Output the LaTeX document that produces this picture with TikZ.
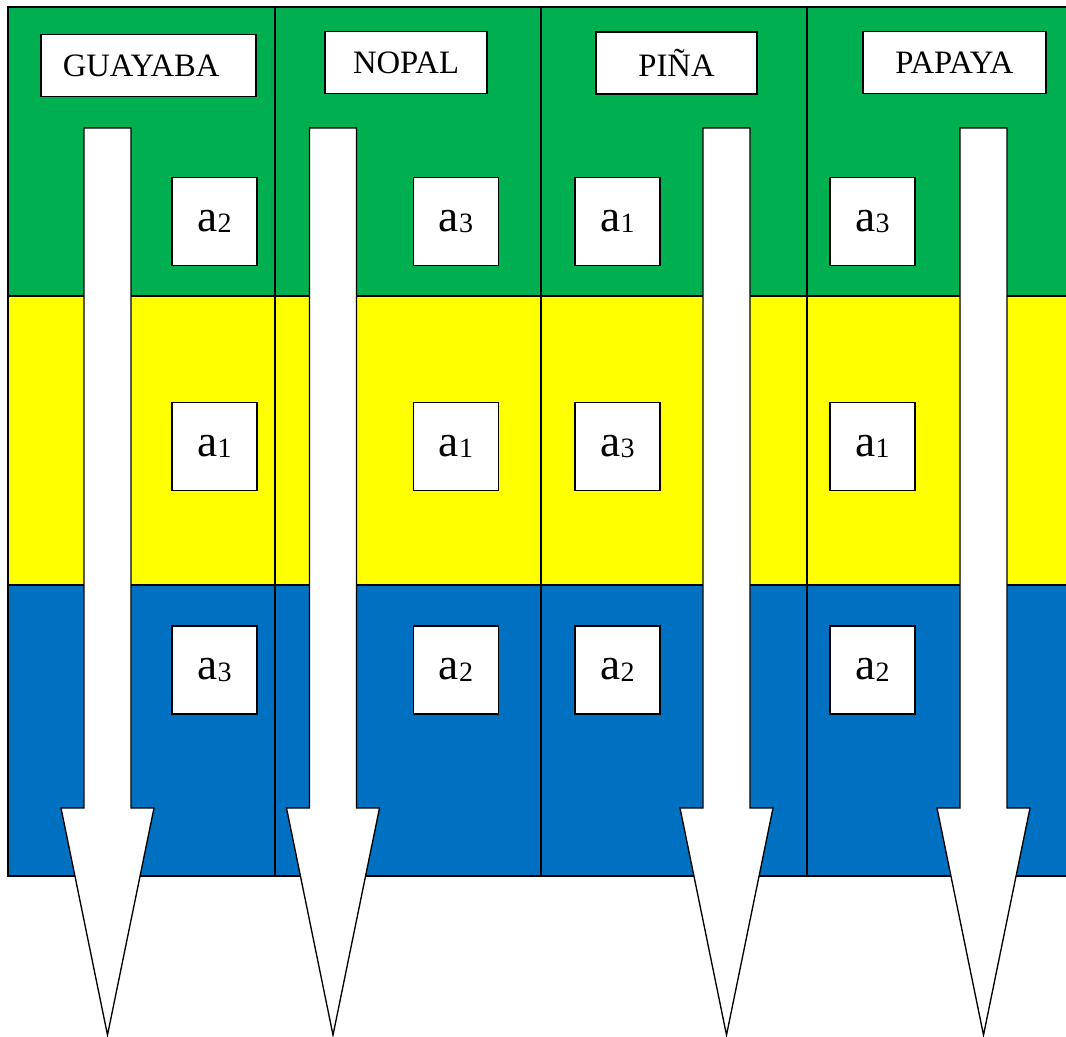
\documentclass[tikz,border=0pt]{standalone}
\usepackage{fontspec}
\setmainfont{Liberation Serif}
\definecolor{cgreen}{HTML}{00B050}
\definecolor{cyellow}{HTML}{FFFF00}
\definecolor{cblue}{HTML}{0070C0}
\newcommand\px{0.75pt}
\newcommand\alab[1]{a\raisebox{-1.2pt}{\fontsize{21}{21}\selectfont #1}}
\begin{document}
\begin{tikzpicture}[x=0.75pt,y=-0.75pt,
  cell/.style={draw=black,line width=1.1pt},
  titlebox/.style={draw=black,fill=white,line width=1.1pt,inner sep=0pt,
    minimum height=62*\px,font=\fontsize{24.5}{28}\selectfont},
  valbox/.style={draw=black,fill=white,line width=1.1pt,inner sep=0pt,
    minimum width=85*\px,minimum height=88*\px,font=\fontsize{34}{40}\selectfont},
  blockarrow/.style={draw=black,fill=white,line width=1pt,line join=miter}]
\useasboundingbox (0,0) rectangle (1066,1036);
\clip (0,0) rectangle (1066,1036);
% cells
\foreach \xa/\xb in {8/275,275/541,541/807,807/1075}{
  \draw[cell,fill=cgreen] (\xa,7) rectangle (\xb,296);
  \draw[cell,fill=cyellow] (\xa,296) rectangle (\xb,585);
  \draw[cell,fill=cblue] (\xa,585) rectangle (\xb,876);
}
% titles
\node[titlebox,minimum width=215*\px] (t1) at (148.5,65.5) {GUAYABA\kern11pt\null};
\node[titlebox,minimum width=162*\px] (t2) at (406,62.5) {NOPAL};
\node[titlebox,minimum width=161*\px] (t3) at (676.5,63) {PIÑA};
\node[titlebox,minimum width=183*\px] (t4) at (954.5,62.5) {PAPAYA};
% value boxes
\node[valbox] (b11) at (214.5,221.5) {\alab{2}};
\node[valbox] (b12) at (214.5,446.5) {\alab{1}};
\node[valbox] (b13) at (214.5,670) {\alab{3}};
\node[valbox] (b21) at (456,221.5) {\alab{3}};
\node[valbox] (b22) at (456,446.5) {\alab{1}};
\node[valbox] (b23) at (456,670) {\alab{2}};
\node[valbox] (b31) at (617.5,221.5) {\alab{1}};
\node[valbox] (b32) at (617.5,446.5) {\alab{3}};
\node[valbox] (b33) at (617.5,670) {\alab{2}};
\node[valbox] (b41) at (872.5,221.5) {\alab{3}};
\node[valbox] (b42) at (872.5,446.5) {\alab{1}};
\node[valbox] (b43) at (872.5,670) {\alab{2}};
% block arrows
\foreach \c/\n in {107.5/1,333/2,726.5/3,983.5/4}{
  \coordinate (arrtop\n) at (\c,128);
  \coordinate (arrtip\n) at (\c,1035);
  \draw[blockarrow] (\c-23.5,128) -- (\c+23.5,128) -- (\c+23.5,808)
    -- (\c+46.5,808) -- (arrtip\n) -- (\c-46.5,808) -- (\c-23.5,808) -- cycle;
}
\end{tikzpicture}
\end{document}
